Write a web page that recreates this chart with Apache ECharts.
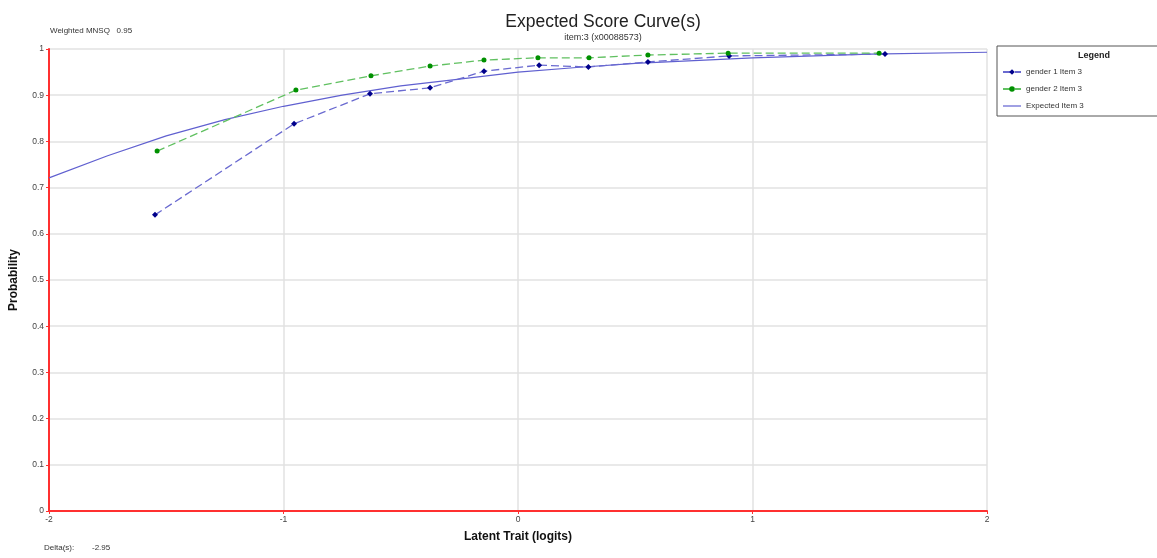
<!DOCTYPE html>
<html><head><meta charset="utf-8">
<script src="https://cdn.jsdelivr.net/npm/echarts@6/dist/echarts.min.js"></script>
<style>html,body{margin:0;padding:0;background:#fff}#c{width:1157px;height:558px}</style>
</head><body><div id="c"></div>
<script>
const xTicks = [-2, -1, 0, 1, 2];
const gender1X = [-1.548, -0.955, -0.631, -0.375, -0.145, 0.09, 0.30, 0.554, 0.90, 1.565];
const gender1Y = [0.641, 0.838, 0.903, 0.916, 0.952, 0.965, 0.961, 0.972, 0.985, 0.989];
const gender2X = [-1.539, -0.947, -0.627, -0.375, -0.145, 0.085, 0.303, 0.554, 0.896, 1.54];
const gender2Y = [0.779, 0.911, 0.942, 0.963, 0.976, 0.981, 0.981, 0.987, 0.991, 0.991];
const expectedX = [-2, -1.75, -1.5, -1.25, -1, -0.75, -0.5, -0.25, 0, 0.25, 0.5, 0.75, 1, 1.5, 2];
const expectedY = [0.721, 0.769, 0.812, 0.847, 0.876, 0.90, 0.92, 0.935, 0.95, 0.96, 0.969, 0.975, 0.981, 0.989, 0.993];
const seriesNames = ['gender 1 Item 3', 'gender 2 Item 3', 'Expected Item 3'];

const zip = (a, b) => a.map((v, i) => [v, b[i]]);
const FONT = 'Liberation Sans, Arial, sans-serif';
const chart = echarts.init(document.getElementById('c'));
chart.setOption({
  animation: false,
  textStyle: { fontFamily: FONT },
  title: {
    text: 'Expected Score Curve(s)',
    subtext: 'item:3 (x00088573)',
    left: 598, textAlign: 'center', top: 8, itemGap: 2,
    textStyle: { fontSize: 17.5, fontWeight: 'normal', color: '#222', fontFamily: FONT },
    subtextStyle: { fontSize: 9, color: '#333', fontFamily: FONT }
  },
  graphic: [
    { type: 'text', left: 50, top: 27, style: { text: 'Weighted MNSQ   0.95', fontSize: 8, fill: '#333', fontFamily: FONT } },
    { type: 'text', left: 44, top: 544, style: { text: 'Delta(s):        -2.95', fontSize: 8, fill: '#333', fontFamily: FONT } },
    { type: 'text', left: 1078, top: 51, style: { text: 'Legend', fontSize: 9, fontWeight: 'bold', fill: '#222', fontFamily: FONT, align: 'center' } }
  ],
  legend: {
    orient: 'vertical', left: 997, top: 46,
    borderColor: '#555', borderWidth: 1,
    padding: [22, 80, 6, 5], itemGap: 9,
    itemWidth: 18, itemHeight: 7,
    textStyle: { fontSize: 8, color: '#333', fontFamily: FONT },
    data: [
      { name: seriesNames[0] },
      { name: seriesNames[1] },
      { name: seriesNames[2], icon: 'path://M0,2.9 L18,2.9 L18,4.1 L0,4.1 Z' }
    ]
  },
  grid: { left: 49, right: 170, top: 49, bottom: 47 },
  xAxis: {
    type: 'value', min: xTicks[0], max: xTicks[xTicks.length - 1], interval: 1,
    name: 'Latent Trait (logits)', nameLocation: 'middle', nameGap: 20,
    nameTextStyle: { fontSize: 12, fontWeight: 'bold', color: '#111' },
    axisLine: { onZero: false, lineStyle: { color: '#ff3030', width: 2 } },
    axisTick: { show: true, length: 3, lineStyle: { color: '#ff3030' } },
    axisLabel: { fontSize: 8.5, color: '#444', margin: 4 },
    splitLine: { show: true, lineStyle: { color: '#e2e2e2', width: 1.5 } }
  },
  yAxis: {
    type: 'value', min: 0, max: 1, interval: 0.1,
    name: 'Probability', nameLocation: 'middle', nameGap: 29,
    nameTextStyle: { fontSize: 12, fontWeight: 'bold', color: '#111' },
    axisLine: { show: true, onZero: false, lineStyle: { color: '#ff3030', width: 2 } },
    axisTick: { show: true, length: 3, lineStyle: { color: '#ff3030' } },
    axisLabel: { fontSize: 8.5, color: '#444', margin: 5 },
    splitLine: { show: true, lineStyle: { color: '#e2e2e2', width: 1.5 } }
  },
  series: [
    {
      name: seriesNames[0], type: 'line', data: zip(gender1X, gender1Y),
      symbol: 'diamond', symbolSize: 6, z: 3,
      itemStyle: { color: '#00008b' },
      lineStyle: { color: '#6a6ad0', width: 1.3, type: [8, 4] }
    },
    {
      name: seriesNames[1], type: 'line', data: zip(gender2X, gender2Y),
      symbol: 'circle', symbolSize: 5, z: 3,
      itemStyle: { color: '#009000' },
      lineStyle: { color: '#60c060', width: 1.3, type: [8, 4] }
    },
    {
      name: seriesNames[2], type: 'line', data: zip(expectedX, expectedY),
      symbol: 'none', z: 2,
      itemStyle: { color: '#6060d0' },
      lineStyle: { color: '#6060d0', width: 1.2 }
    }
  ]
});
</script></body></html>
